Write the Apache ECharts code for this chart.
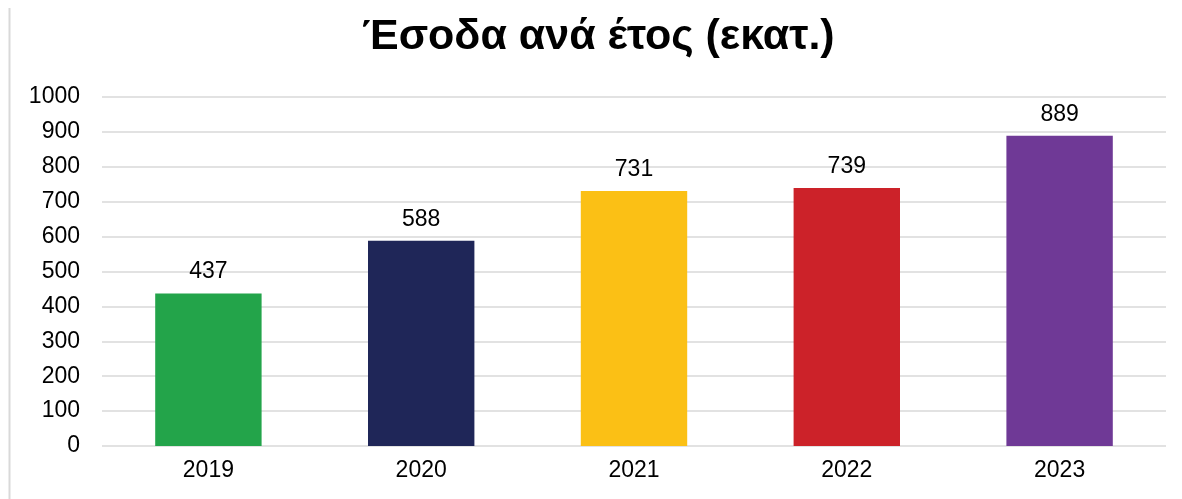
<!DOCTYPE html>
<html>
<head>
<meta charset="utf-8">
<script src="https://cdn.jsdelivr.net/npm/echarts@6/dist/echarts.min.js"></script>
<style>
  html, body { margin: 0; padding: 0; background: #fff; }
  #chart { width: 1182px; height: 499px; }
</style>
</head>
<body>
<div id="chart"></div>
<script>
  // Données
  const titre = 'Έσοδα ανά έτος (εκατ.)';
  const annees = ['2019', '2020', '2021', '2022', '2023'];
  const revenus = [437, 588, 731, 739, 889];
  const couleurs = ['#23a44a', '#1f2658', '#fbc015', '#cc2229', '#6f3996'];

  const chart = echarts.init(document.getElementById('chart'));

  chart.setOption({
    animation: false,
    title: {
      text: titre,
      left: 357,
      top: 11,
      textStyle: { fontFamily: 'Liberation Sans', fontWeight: 'bold', fontSize: 43, color: '#000' }
    },
    graphic: [{
      type: 'line',
      shape: { x1: 9.5, y1: 8, x2: 9.5, y2: 499 },
      style: { stroke: '#d9d9d9', lineWidth: 2 }
    }],
    grid: { left: 102, right: 16, top: 97, bottom: 53 },
    xAxis: {
      type: 'category',
      data: annees,
      axisLine: { show: false },
      axisTick: { show: false },
      axisLabel: { fontFamily: 'Liberation Sans', fontSize: 23, color: '#000', margin: 13 }
    },
    yAxis: {
      type: 'value',
      min: 0,
      max: 1000,
      interval: 100,
      axisLine: { show: false },
      axisTick: { show: false },
      splitLine: { lineStyle: { color: '#d9d9d9', width: 1.5 } },
      axisLabel: {
        fontFamily: 'Liberation Sans',
        fontSize: 23,
        color: '#000',
        margin: 22,
        formatter: v => String(v)
      }
    },
    series: [{
      type: 'bar',
      data: revenus.map((v, i) => ({ value: v, itemStyle: { color: couleurs[i] } })),
      barWidth: '50%',
      label: {
        show: true,
        position: 'top',
        distance: 10,
        fontFamily: 'Liberation Sans',
        fontSize: 23,
        color: '#000'
      }
    }]
  });
</script>
</body>
</html>
